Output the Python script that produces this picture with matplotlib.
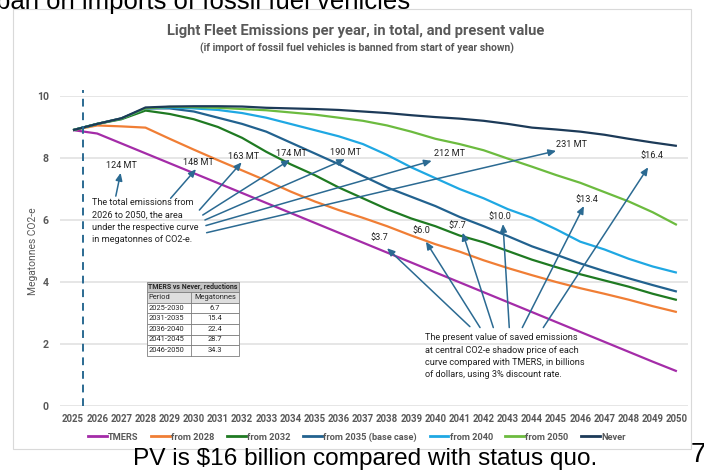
import matplotlib
matplotlib.use("Agg")
import matplotlib.pyplot as plt
from matplotlib.patches import Rectangle
from matplotlib.lines import Line2D

# ---- data (Mt CO2-e per year) ----
years = list(range(2025, 2051))
tmers = [8.90, 8.79, 8.47, 8.15, 7.83, 7.51, 7.19, 6.87, 6.55, 6.23, 5.91, 5.59, 5.27,
         4.95, 4.63, 4.31, 3.99, 3.67, 3.35, 3.03, 2.71, 2.39, 2.07, 1.75, 1.43, 1.12]
from_2028 = [8.90, 9.05, 9.02, 8.98, 8.62, 8.27, 7.93, 7.60, 7.27, 6.92, 6.60, 6.32, 6.07,
             5.80, 5.50, 5.22, 4.98, 4.70, 4.45, 4.22, 4.00, 3.80, 3.62, 3.43, 3.22, 3.03]
from_2032 = [8.90, 9.10, 9.25, 9.53, 9.42, 9.25, 9.00, 8.65, 8.20, 7.80, 7.45, 7.05, 6.70,
             6.35, 6.05, 5.80, 5.50, 5.28, 5.00, 4.72, 4.48, 4.25, 4.05, 3.85, 3.62, 3.42]
from_2035 = [8.90, 9.10, 9.28, 9.60, 9.60, 9.50, 9.30, 9.10, 8.85, 8.50, 8.15, 7.80, 7.42,
             7.05, 6.75, 6.45, 6.10, 5.80, 5.48, 5.15, 4.88, 4.60, 4.35, 4.12, 3.90, 3.69]
from_2040 = [8.90, 9.10, 9.27, 9.60, 9.63, 9.60, 9.55, 9.45, 9.30, 9.10, 8.90, 8.70, 8.45,
             8.10, 7.70, 7.35, 7.00, 6.70, 6.35, 6.07, 5.70, 5.30, 5.05, 4.75, 4.50, 4.30]
from_2050 = [8.90, 9.10, 9.27, 9.60, 9.65, 9.64, 9.62, 9.58, 9.54, 9.47, 9.40, 9.30, 9.20,
             9.05, 8.85, 8.62, 8.45, 8.25, 7.98, 7.72, 7.45, 7.20, 6.90, 6.60, 6.25, 5.84]
never = [8.90, 9.10, 9.28, 9.63, 9.66, 9.67, 9.67, 9.66, 9.62, 9.60, 9.58, 9.55, 9.50,
         9.45, 9.38, 9.32, 9.27, 9.20, 9.10, 8.98, 8.92, 8.85, 8.75, 8.62, 8.50, 8.39]

series_names = ["TMERS", "from 2028", "from 2032", "from 2035 (base case)",
                "from 2040", "from 2050", "Never"]
series_vals = [tmers, from_2028, from_2032, from_2035, from_2040, from_2050, never]
series_cols = ["#A42CA8", "#F07E35", "#1F7A22", "#22628F", "#1FA8E3", "#6CBB3F", "#1C3A58"]

# total emission labels (MT) and PV labels ($bn)
mt_labels = ["124 MT", "148 MT", "163 MT", "174 MT", "190 MT", "212 MT", "231 MT"]
mt_text_pos = [(2027.0, 7.77), (2030.2, 7.85), (2032.05, 8.06), (2034.05, 8.13),
               (2036.26, 8.19), (2040.6, 8.13), (2045.64, 8.42)]
mt_heads = [(2026.97, 7.52), (2030.09, 7.64), (2031.98, 7.86), (2033.98, 7.94),
            (2036.26, 7.96), (2039.85, 7.91), (2045.0, 8.23)]
mt_tails = [(2026.77, 6.77), (2029.04, 6.70), (2030.23, 6.32), (2030.37, 6.16),
            (2030.46, 6.00), (2030.5, 5.82), (2030.53, 5.59)]

pv_labels = ["$3.7", "$6.0", "$7.7", "$10.0", "$13.4", "$16.4"]
pv_text_pos = [(2037.7, 5.44), (2039.43, 5.66), (2040.9, 5.82), (2042.67, 6.10),
               (2046.26, 6.67), (2048.95, 8.07)]
pv_heads = [(2038.0, 5.09), (2039.61, 5.30), (2041.13, 5.59), (2042.8, 5.87),
            (2046.15, 6.45), (2048.81, 7.70)]
pv_tails = [(2041.43, 2.56), (2041.85, 2.53), (2042.4, 2.53), (2043.06, 2.53),
            (2043.6, 2.53), (2044.47, 2.53)]

table_title = "TMERS vs Never, reductions"
table_header = ["Period", "Megatonnes"]
table_periods = ["2025-2030", "2031-2035", "2036-2040", "2041-2045", "2046-2050"]
table_mt = ["6.7", "15.4", "22.4", "28.7", "34.3"]

ban_year = 2025.4

narrow = ["Roboto", "DejaVu Sans"]
plain = ["Roboto", "DejaVu Sans"]
slide = ["Liberation Sans", "DejaVu Sans"]
grey = "#595959"
arrow_col = "#2B6A92"

fig = plt.figure(figsize=(7.04, 4.73), dpi=100)
W, H = 704, 473

def fx(px):
    return px / W

def fy(py):
    return 1 - py / H

# slide card
fig.patches.append(Rectangle((fx(13), fy(449)), fx(691) - fx(13), fy(9) - fy(449),
                             transform=fig.transFigure, fill=False, ec="#d9d9d9", lw=0.8))

ax = fig.add_axes([fx(60), fy(406), fx(628), 310 / H])
for name, vals, c in zip(series_names, series_vals, series_cols):
    ax.plot(years, vals, color=c, lw=1.6, label=name, solid_capstyle="butt")

ax.axvline(ban_year, ymin=0, ymax=1.02, color=arrow_col, lw=1.4, ls=(0, (4, 3)), clip_on=False)

ax.set_xlim(2024.46, 2050.46)
ax.set_ylim(0, 10)
ax.set_yticks(range(0, 11, 2))
ax.set_xticks(years)
ax.set_xticklabels([str(y) for y in years])
ax.grid(axis="y", color="#e4e4e4", lw=1.3)
ax.set_axisbelow(True)
for s in ax.spines.values():
    s.set_visible(False)
ax.tick_params(length=0, colors=grey)
ax.tick_params(axis="y", pad=8, labelsize=7.6)
ax.tick_params(axis="x", pad=6, labelsize=6.9)
for lab in ax.get_xticklabels() + ax.get_yticklabels():
    lab.set_family(narrow)
    lab.set_fontweight("bold")

fig.text(fx(33), fy(251), "Megatonnes CO2-e", rotation=90, ha="center", va="center",
         color=grey, fontsize=7.4, family=narrow)

# annotations
aprops = dict(arrowstyle="-|>,head_length=0.45,head_width=0.2", color=arrow_col, lw=1.1,
              shrinkA=0, shrinkB=0)
for lab, tp, hd, tl in zip(mt_labels, mt_text_pos, mt_heads, mt_tails):
    ax.text(tp[0], tp[1], lab, ha="center", va="center", fontsize=6.6, family=plain, color="#222222")
    ax.annotate("", xy=hd, xytext=tl, arrowprops=aprops)
for lab, tp, hd, tl in zip(pv_labels, pv_text_pos, pv_heads, pv_tails):
    ax.text(tp[0], tp[1], lab, ha="center", va="center", fontsize=6.6, family=plain, color="#222222")
    ax.annotate("", xy=hd, xytext=tl, arrowprops=aprops)

ax.text(2025.79, 6.70, "The total emissions from\n2026 to 2050, the area\nunder the respective curve\n"
        "in megatonnes of CO2-e.", ha="left", va="top", fontsize=6.6, family=plain,
        color="#222222", linespacing=1.45)
ax.text(2039.59, 2.34, "The present value of saved emissions\nat central CO2-e shadow price of each\n"
        "curve compared with TMERS, in billions\nof dollars, using 3% discount rate.",
        ha="left", va="top", fontsize=6.6, family=plain, color="#222222", linespacing=1.45)

# small table (axes fraction coordinates)
def afx(px):
    return (px - 60) / 628

def afy(py):
    return (406 - py) / 310

tx0, tx1, tsplit = 147, 239, 190.7
row_h = 10.57
ty0 = 281.7
rows = [(table_title, None)] + [tuple(table_header)] + list(zip(table_periods, table_mt))
for i, (a, b) in enumerate(rows):
    top = ty0 + i * row_h
    bg = "#c4c4c4" if i == 0 else ("#dedede" if i == 1 else "white")
    ax.add_patch(Rectangle((afx(tx0), afy(top + row_h)), afx(tx1) - afx(tx0),
                           afy(top) - afy(top + row_h), transform=ax.transAxes,
                           fc=bg, ec="#7f7f7f", lw=0.6, zorder=5))
    yc = afy(top + row_h / 2)
    fw = "bold" if i == 0 else "normal"
    fs = 5.0 if i == 0 else 5.4
    ax.text(afx(tx0 + 1.5), yc, a, transform=ax.transAxes, ha="left", va="center",
            fontsize=fs, family=narrow, fontweight=fw, color="#262626", zorder=6)
    if b is not None:
        ax.plot([afx(tsplit)] * 2, [afy(top), afy(top + row_h)], transform=ax.transAxes,
                color="#7f7f7f", lw=0.6, zorder=6)
        ax.text(afx((tsplit + tx1) / 2), yc, b, transform=ax.transAxes, ha="center",
                va="center", fontsize=5.4, family=narrow, color="#262626", zorder=6)

# titles
fig.text(fx(356), fy(31), "Light Fleet Emissions per year, in total, and present value",
         ha="center", va="center", fontsize=10.6, fontweight="bold", color=grey, family=narrow)
fig.text(fx(357), fy(48), "(if import of fossil fuel vehicles is banned from start of year shown)",
         ha="center", va="center", fontsize=7.5, fontweight="bold", color=grey, family=narrow)

# legend
handles = [Line2D([], [], color=c, lw=2) for c in series_cols]
leg = fig.legend(handles, series_names, loc="center", bbox_to_anchor=(fx(357), fy(437)),
                 ncol=7, frameon=False, handlelength=2.0, handletextpad=0.15, columnspacing=1.35,
                 prop={"family": narrow, "size": 6.7, "weight": "bold"})
for t in leg.get_texts():
    t.set_color(grey)

# slide text around the chart
fig.text(fx(-4), fy(9), "ban on imports of fossil fuel vehicles", ha="left", va="baseline",
         fontsize=18.5, family=slide, color="black")
fig.text(fx(365), fy(459), "PV is $16 billion compared with status quo.", ha="center",
         va="center", fontsize=17.6, family=slide, color="black")
fig.text(fx(691), fy(462), "7", ha="left", va="baseline", fontsize=20, family=slide, color="black")

fig.savefig("out.png", dpi=100)
